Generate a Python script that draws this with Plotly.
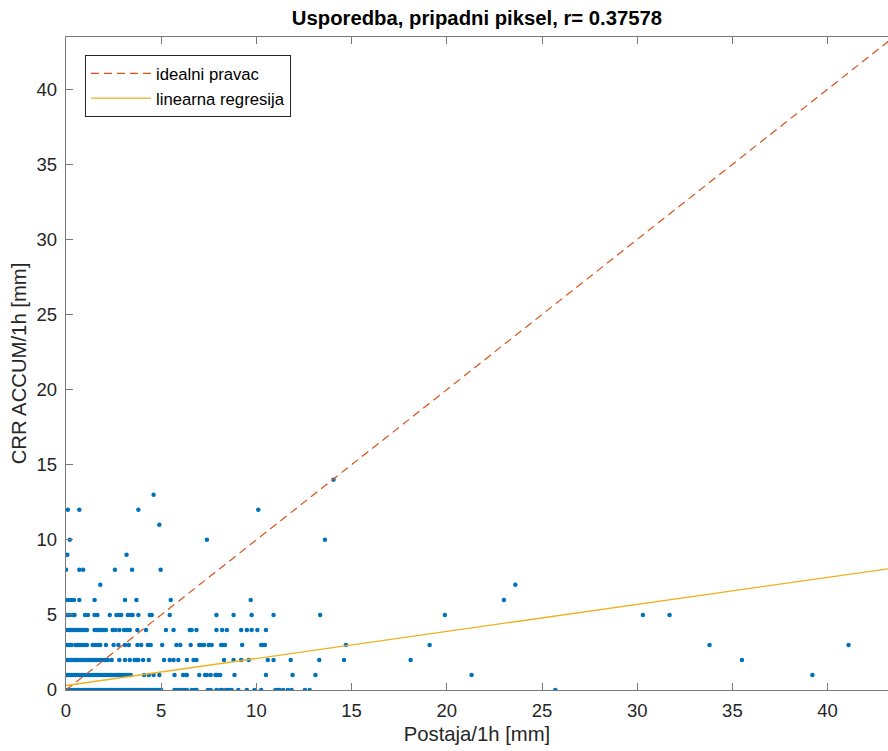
import plotly.graph_objects as go

# ---- data (station x per CRR level y) ----
x_at_0 = [0.0, 0.1, 0.2, 0.3, 0.4, 0.5, 0.6, 0.7, 0.8, 0.9, 1.0, 1.1, 1.2, 1.3, 1.4, 1.5, 1.6, 1.7,
          1.8, 1.9, 2.0, 2.1, 2.2, 2.3, 2.4, 2.5, 2.6, 2.7, 2.8, 2.9, 3.0, 3.1, 3.2, 3.3, 3.4, 3.5,
          3.6, 3.7, 3.8, 3.9, 4.0, 4.1, 4.2, 4.3, 4.4, 4.5, 4.6, 4.7, 4.8, 4.9, 5.0, 5.7, 5.8, 5.95,
          6.1, 6.25, 6.35, 6.6, 6.75, 6.85, 7.45, 7.6, 7.9, 8.1, 8.2, 8.4, 8.55, 8.7, 9.05, 9.5,
          9.9, 10.25, 11.0, 11.1, 11.2, 11.4, 11.65, 11.85, 12.55, 12.8, 25.7]
x_at_1 = [0.0, 0.1, 0.2, 0.3, 0.4, 0.5, 0.6, 0.7, 0.8, 0.9, 1.0, 1.1, 1.2, 1.3, 1.4, 1.5, 1.6, 1.7,
          1.8, 1.9, 2.0, 2.1, 2.2, 2.3, 2.4, 2.5, 2.6, 2.7, 2.8, 2.9, 3.0, 3.1, 3.2, 3.3, 3.4,
          4.1, 4.35, 4.6, 4.9, 5.7, 6.15, 6.3, 6.35, 7.0, 7.3, 7.4, 7.6, 7.85, 7.9, 8.0, 8.1, 8.85,
          10.5, 11.9, 13.1, 21.3, 39.2]
x_at_2 = [0.0, 0.1, 0.2, 0.3, 0.4, 0.5, 0.6, 0.7, 0.8, 0.9, 1.0, 1.1, 1.2, 1.3, 1.4, 1.5, 1.6, 1.7,
          1.8, 1.9, 2.0, 2.1, 2.2, 2.4, 2.8, 3.1, 3.35, 3.6, 3.7, 3.8, 4.05, 4.35, 5.15, 5.45, 5.65,
          5.9, 6.35, 6.7, 6.85, 8.3, 8.8, 9.2, 9.6, 10.6, 10.9, 11.8, 13.3, 14.6, 18.1, 35.5]
x_at_3 = [0.0, 0.1, 0.2, 0.3, 0.5, 0.6, 0.7, 0.8, 0.9, 1.0, 1.1, 1.4, 1.55, 1.7, 1.8, 2.1, 2.5,
          2.75, 3.1, 3.3, 3.75, 3.95, 4.3, 4.45, 5.05, 5.8, 6.0, 6.55, 7.0, 7.1, 7.25, 7.5, 7.65,
          8.15, 8.25, 8.35, 9.25, 10.25, 10.35, 10.45, 14.7, 19.1, 33.8, 41.1]
x_at_4 = [0.0, 0.1, 0.2, 0.3, 0.4, 0.5, 0.6, 0.7, 0.8, 0.9, 1.0, 1.1, 1.5, 1.6, 1.7, 1.8, 1.9, 2.0,
          2.1, 2.45, 2.6, 2.8, 3.05, 3.2, 3.35, 3.75, 4.2, 5.25, 5.65, 6.5, 6.6, 6.85, 7.9, 8.2,
          8.45, 9.2, 9.5, 9.75, 10.05, 10.5]
x_at_5 = [0.0, 0.1, 0.2, 0.35, 0.45, 1.0, 1.15, 1.5, 1.65, 2.3, 2.65, 2.8, 2.9, 3.25, 3.4, 3.5,
          3.8, 4.4, 4.5, 5.45, 7.9, 8.8, 9.75, 10.9, 13.35, 19.9, 30.3, 31.7]
x_at_6 = [0.0, 0.12, 0.3, 0.42, 0.7, 1.5, 3.1, 3.7, 5.5, 9.7, 23.0]
x_at_7 = [1.8, 23.6]
x_at_8 = [0.0, 0.7, 0.9, 2.57, 3.47, 4.97]
x_at_9 = [0.07, 3.18]
x_at_10 = [0.2, 7.4, 13.6]
x_at_11 = [4.9]
x_at_12 = [0.1, 0.7, 3.8, 10.1]
x_at_13 = [4.6]
x_at_14 = [14.05]

crr_levels = [0, 1, 2, 3, 4, 5, 6, 7, 8, 9, 10, 11, 12, 13, 14]
station_rows = [x_at_0, x_at_1, x_at_2, x_at_3, x_at_4, x_at_5, x_at_6, x_at_7,
                x_at_8, x_at_9, x_at_10, x_at_11, x_at_12, x_at_13, x_at_14]

# ideal line y = x and fitted regression
ideal_x = [0.0, 43.5]
reg_slope = 0.18
reg_intercept = 0.3
reg_x = [0.0, 43.5]

title_text = "Usporedba, pripadni piksel, r= 0.37578"
x_title = "Postaja/1h [mm]"
y_title = "CRR ACCUM/1h [mm]"
legend_names = ["idealni pravac", "linearna regresija"]
tick_vals = [0, 5, 10, 15, 20, 25, 30, 35, 40]

# ---- build ----
px_all, py_all = [], []
for lvl, row in zip(crr_levels, station_rows):
    px_all.extend(row)
    py_all.extend([lvl] * len(row))

W, H = 888, 751
ML, MT, MB, MR = 66, 37, 61, 0
FONT = "Liberation Sans, Arial, Helvetica, sans-serif"
TXT = "#262626"
AX = "#7a7a7a"

fig = go.Figure()
fig.add_trace(go.Scatter(
    x=px_all, y=py_all, mode="markers", showlegend=False,
    marker=dict(color="#0072BD", size=4.5, line=dict(width=0)),
    hoverinfo="x+y"))
fig.add_trace(go.Scatter(
    x=ideal_x, y=ideal_x, mode="lines", name=legend_names[0],
    line=dict(color="#D95319", width=1.2, dash="8px,5px")))
fig.add_trace(go.Scatter(
    x=reg_x, y=[reg_intercept + reg_slope * v for v in reg_x], mode="lines",
    name=legend_names[1], line=dict(color="#EDB120", width=1.3)))

axis_common = dict(
    showgrid=False, zeroline=False, showline=True, linecolor=AX, linewidth=1.3,
    ticks="inside", ticklen=7, tickwidth=1.3, tickcolor=AX,
    tickvals=tick_vals, tickfont=dict(family=FONT, size=18.5, color=TXT),
)

fig.update_layout(
    width=W, height=H,
    margin=dict(l=ML, r=MR, t=MT, b=MB, pad=0),
    paper_bgcolor="white", plot_bgcolor="white",
    font=dict(family=FONT, color=TXT),
    title=dict(text="<b>" + title_text + "</b>", font=dict(family=FONT, size=20.3, color="#000000"),
               xref="paper", x=0.5, xanchor="center",
               yref="container", y=1 - 18 / H, yanchor="middle"),
    xaxis=dict(range=[0, (W - ML - MR) / 19.04], mirror="ticks",
               title=dict(text=x_title, font=dict(family=FONT, size=20.3, color=TXT), standoff=6),
               ticklabelstandoff=4, **axis_common),
    yaxis=dict(range=[0, 43.48], mirror=False,
               title=dict(text=y_title, font=dict(family=FONT, size=20.3, color=TXT), standoff=4),
               ticklabelstandoff=4, **axis_common),
    legend=dict(x=(85 - ML) / (W - ML - MR), y=1 - (55 - MT) / (H - MT - MB),
                xanchor="left", yanchor="top",
                bgcolor="white", bordercolor="#262626", borderwidth=1,
                font=dict(family=FONT, size=16.7, color="#000000"),
                itemwidth=60, tracegroupgap=0),
)

fig.write_html("out.html")
